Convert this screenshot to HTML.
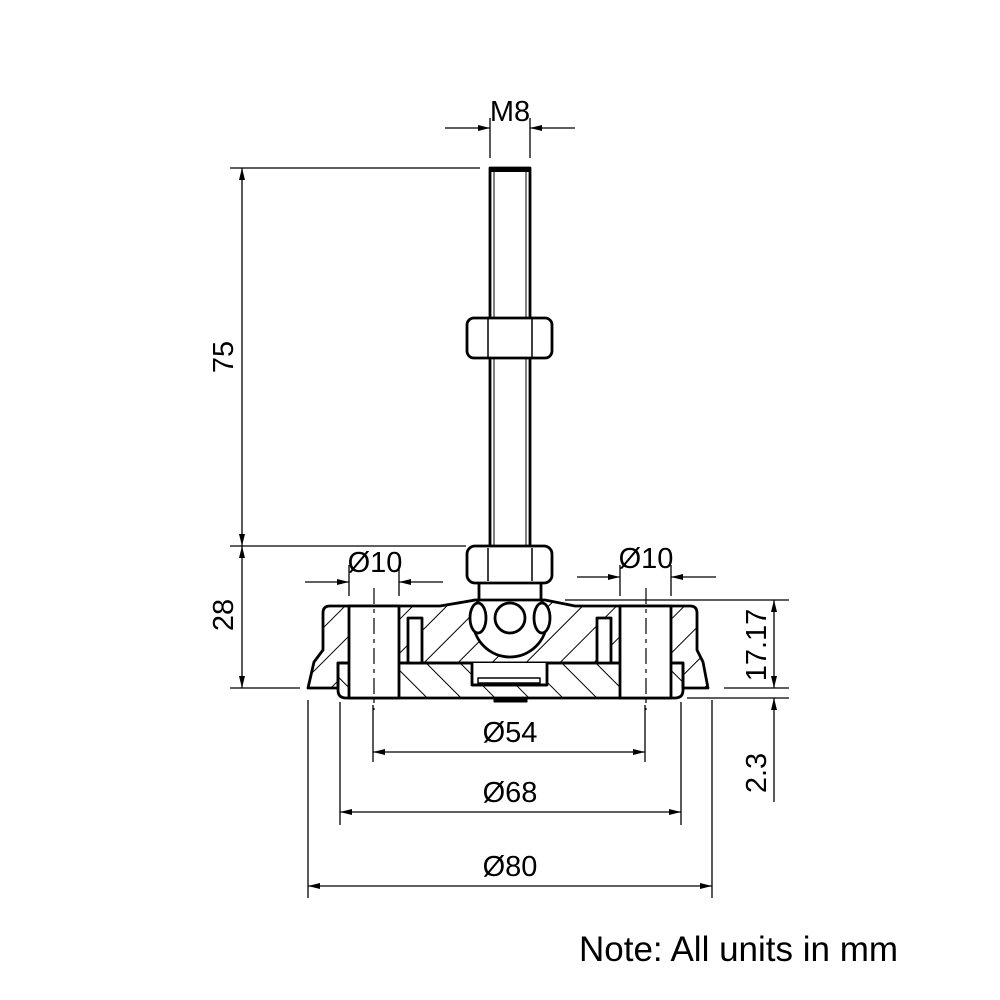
<!DOCTYPE html>
<html><head><meta charset="utf-8"><style>html,body{margin:0;padding:0;background:#fff}svg{display:block}text{font-family:"Liberation Sans",sans-serif;fill:#000}</style></head>
<body>
<svg width="1000" height="1000" viewBox="0 0 1000 1000" xmlns="http://www.w3.org/2000/svg">
<defs>
<pattern id="h1" width="24" height="24" patternUnits="userSpaceOnUse" patternTransform="rotate(45)"><line x1="0" y1="0" x2="0" y2="24" stroke="#000" stroke-width="2"/></pattern>
<pattern id="h2" width="24" height="24" patternUnits="userSpaceOnUse" patternTransform="rotate(-45)"><line x1="0" y1="0" x2="0" y2="24" stroke="#000" stroke-width="2"/></pattern>
<marker id="a" viewBox="0 0 12 6" refX="12" refY="3" markerWidth="12" markerHeight="6" orient="auto-start-reverse" markerUnits="userSpaceOnUse"><path d="M0,0 L12,3 L0,6z" fill="#000"/></marker>
</defs>
<g stroke="#000" fill="none" stroke-width="1.3">
<line x1="490" y1="118" x2="490" y2="158"/><line x1="530" y1="118" x2="530" y2="158"/>
<line x1="445" y1="128" x2="490" y2="128" marker-end="url(#a)"/><line x1="575" y1="128" x2="530" y2="128" marker-end="url(#a)"/>
<line x1="230" y1="168" x2="480" y2="168"/><line x1="230" y1="546" x2="466" y2="546"/><line x1="230" y1="688" x2="300" y2="688"/>
<line x1="242" y1="168" x2="242" y2="546" marker-start="url(#a)" marker-end="url(#a)"/>
<line x1="242" y1="546" x2="242" y2="688" marker-start="url(#a)" marker-end="url(#a)"/>
<line x1="349" y1="565" x2="349" y2="596"/><line x1="399" y1="565" x2="399" y2="596"/>
<line x1="305" y1="582" x2="349" y2="582" marker-end="url(#a)"/><line x1="443" y1="582" x2="399" y2="582" marker-end="url(#a)"/>
<line x1="620" y1="565" x2="620" y2="596"/><line x1="671" y1="565" x2="671" y2="596"/>
<line x1="577" y1="577" x2="620" y2="577" marker-end="url(#a)"/><line x1="716" y1="577" x2="671" y2="577" marker-end="url(#a)"/>
<line x1="565" y1="600" x2="789" y2="600"/><line x1="724" y1="688" x2="789" y2="688"/><line x1="687" y1="698" x2="789" y2="698"/>
<line x1="774" y1="600" x2="774" y2="688" marker-start="url(#a)" marker-end="url(#a)"/>
<line x1="774" y1="802" x2="774" y2="698" marker-end="url(#a)"/>
<line x1="373" y1="705" x2="373" y2="762"/><line x1="645" y1="705" x2="645" y2="762"/>
<line x1="373" y1="752" x2="645" y2="752" marker-start="url(#a)" marker-end="url(#a)"/>
<line x1="340" y1="702" x2="340" y2="825"/><line x1="681" y1="702" x2="681" y2="825"/>
<line x1="340" y1="812" x2="681" y2="812" marker-start="url(#a)" marker-end="url(#a)"/>
<line x1="308" y1="700" x2="308" y2="898"/><line x1="712" y1="700" x2="712" y2="898"/>
<line x1="308" y1="886" x2="712" y2="886" marker-start="url(#a)" marker-end="url(#a)"/>
</g>
<g stroke="#000" stroke-width="2.8" stroke-linejoin="round">
<rect x="490" y="168" width="40" height="380" fill="#fff"/>
<line x1="490" y1="170" x2="530" y2="170" stroke-width="4"/>
<line x1="494" y1="172" x2="494" y2="546" stroke-width="1"/><line x1="526" y1="172" x2="526" y2="546" stroke-width="1"/>
<rect x="467" y="318" width="85" height="40" rx="7" fill="#fff"/>
<line x1="488" y1="318" x2="488" y2="358" stroke-width="1.5"/><line x1="532" y1="318" x2="532" y2="358" stroke-width="1.5"/>
<path d="M330,606 L440,606 Q470,601 475,600 L545,600 Q560,603 575,606 L690,606 Q697,606 697,613 L697,650 L703,662 L708,688 L683,688 L683,663 L338,663 L338,688 L308,688 L314,662 L323,650 L323,613 Q323,606 330,606Z" fill="url(#h1)"/>
<path d="M338,663 L683,663 L683,690 Q683,698 675,698 L346,698 Q338,698 338,690Z" fill="url(#h2)"/>
<rect x="349" y="606" width="50" height="92" fill="#fff"/>
<rect x="620" y="606" width="51" height="92" fill="#fff"/>
<rect x="408" y="618" width="14" height="45" fill="#fff"/>
<rect x="597" y="618" width="14" height="45" fill="#fff"/>
<path d="M472,663 L472,685 L547,685 L547,663" fill="#fff"/>
<rect x="478" y="678" width="62" height="5" fill="#fff" stroke-width="1.5"/>
<rect x="494" y="698" width="33" height="4" fill="#000" stroke-width="1"/>
<line x1="472" y1="685" x2="547" y2="685"/>
<circle cx="510" cy="620" r="37" fill="#fff"/>
<ellipse cx="478" cy="618" rx="8" ry="15" fill="#fff"/>
<ellipse cx="542" cy="618" rx="8" ry="15" fill="#fff"/>
<circle cx="510" cy="618" r="15" fill="#fff"/>
<rect x="479" y="582" width="62" height="18" fill="#fff"/>
<rect x="467" y="546" width="85" height="37" rx="8" fill="#fff"/>
<line x1="488" y1="548" x2="488" y2="581" stroke-width="1.5"/><line x1="532" y1="548" x2="532" y2="581" stroke-width="1.5"/>
</g>
<g stroke="#000" stroke-width="1.2" stroke-dasharray="16,5,4,5">
<line x1="374" y1="588" x2="374" y2="710"/><line x1="646" y1="588" x2="646" y2="710"/>
</g>
<g font-size="29">
<text x="510" y="121" text-anchor="middle">M8</text>
<text x="375" y="572" text-anchor="middle">Ø10</text>
<text x="646" y="568" text-anchor="middle">Ø10</text>
<text x="510" y="742" text-anchor="middle">Ø54</text>
<text x="510" y="802" text-anchor="middle">Ø68</text>
<text x="510" y="876" text-anchor="middle">Ø80</text>
<text transform="translate(233,357) rotate(-90)" text-anchor="middle">75</text>
<text transform="translate(233,615) rotate(-90)" text-anchor="middle">28</text>
<text transform="translate(766,645) rotate(-90)" text-anchor="middle">17.17</text>
<text transform="translate(766,773) rotate(-90)" text-anchor="middle">2.3</text>
<text x="898" y="961" text-anchor="end" font-size="35">Note: All units in mm</text>
</g>
</svg>
</body></html>
